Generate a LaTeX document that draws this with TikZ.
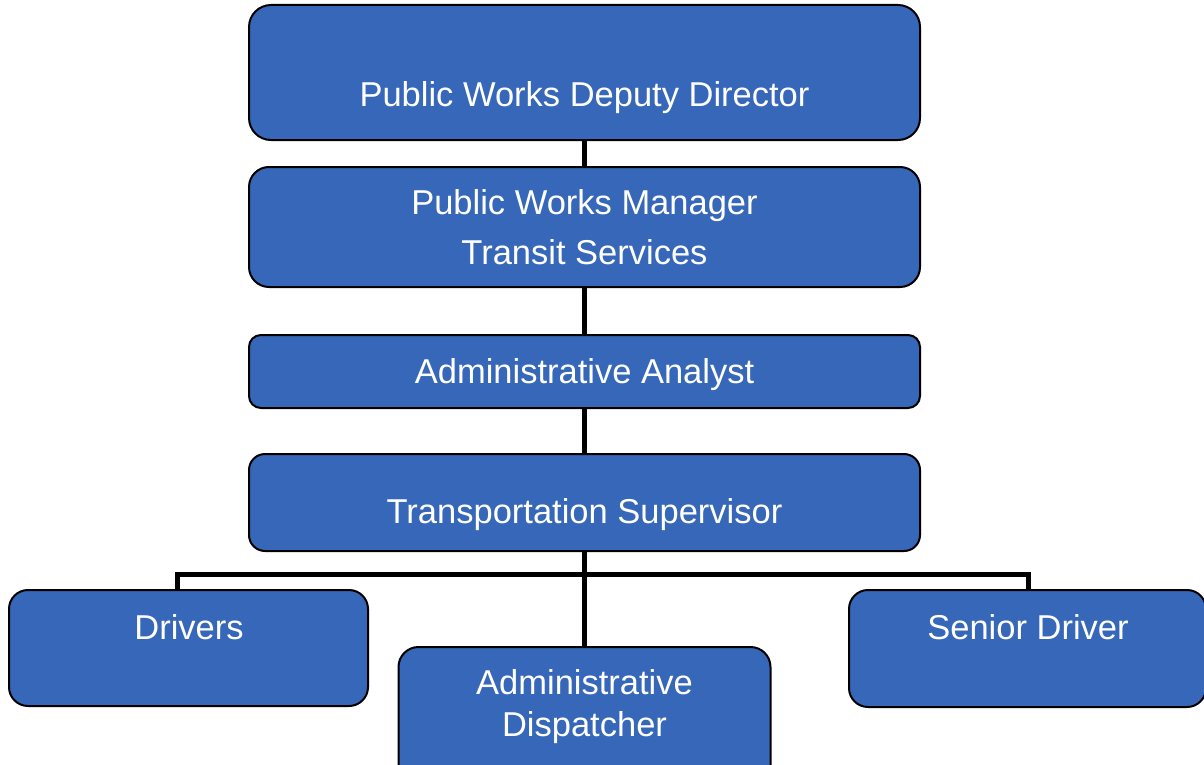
\documentclass[tikz,border=0pt]{standalone}
\usepackage{fontspec}
\setmainfont{Liberation Sans}
\definecolor{boxblue}{HTML}{3667B8}
\begin{document}
\begin{tikzpicture}[x=1pt,y=-1pt,
  box/.style={draw=black, line width=2pt, fill=boxblue, rectangle,
              inner sep=0pt, outer sep=0pt},
  lbl/.style={text=white, anchor=base, inner sep=0pt,
              font=\fontsize{34.5}{41}\selectfont},
  link/.style={draw=black, line width=5pt, line join=miter}]
\useasboundingbox (0,0) rectangle (1204,765);
\clip (0,0) rectangle (1204,765);

% positions of the boxes
\node[box, rounded corners=22, minimum width=671, minimum height=135] (dir)  at (584.5,72.5) {};
\node[box, rounded corners=20, minimum width=671, minimum height=120] (mgr)  at (584.5,227) {};
\node[box, rounded corners=12, minimum width=671, minimum height=73]  (ana)  at (584.5,371.5) {};
\node[box, rounded corners=16, minimum width=671, minimum height=97]  (sup)  at (584.5,502.5) {};
\node[box, rounded corners=19, minimum width=359, minimum height=116] (drv)  at (188.5,648) {};
\node[box, rounded corners=20, minimum width=372, minimum height=143] (disp) at (584.5,718.5) {};
\node[box, rounded corners=19, minimum width=357, minimum height=117] (sen)  at (1027.5,648.5) {};

% reporting lines
\draw[link] (dir.south) -- (mgr.north);
\draw[link] (mgr.south) -- (ana.north);
\draw[link] (ana.south) -- (sup.north);
\draw[link] (sup.south) -- (disp.north);
\coordinate (busL) at (177,574.5);
\coordinate (busR) at (1028.5,574.5);
\draw[link] (drv.north -| busL) -- (busL) -- (busR) -- (sen.north -| busR);

% titles
\node[lbl] (tdir)  at (584.5,107) {Public Works Deputy Director};
\node[lbl] (tmgr1) at (584.5,214) {Public Works Manager};
\node[lbl] (tmgr2) at (584.5,264) {Transit Services};
\node[lbl] (tana)  at (584.5,383) {Administrative Analyst};
\node[lbl] (tsup)  at (584.5,523) {Transportation Supervisor};
\node[lbl] (tdrv)  at (189,639) {Drivers};
\node[lbl] (tdis1) at (584.5,694) {Administrative};
\node[lbl] (tdis2) at (584.5,736) {Dispatcher};
\node[lbl] (tsen)  at (1028,639) {Senior Driver};
\end{tikzpicture}
\end{document}
